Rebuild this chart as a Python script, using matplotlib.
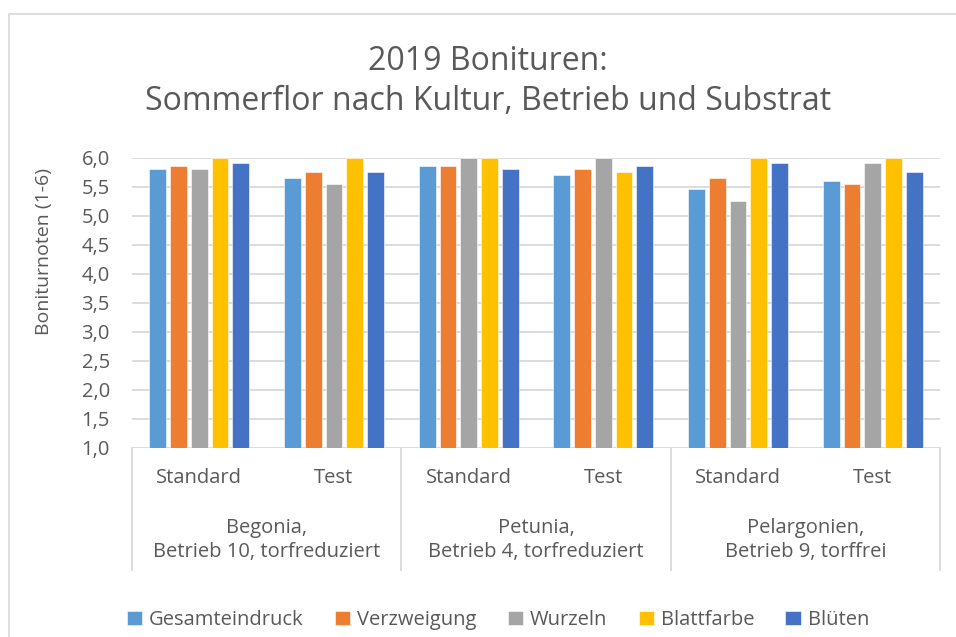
import matplotlib
matplotlib.use("Agg")
import matplotlib.pyplot as plt
import matplotlib.transforms as mtransforms
from matplotlib.patches import Rectangle
import numpy as np

plt.rcParams['font.family'] = ['Open Sans', 'DejaVu Sans']

# ---- data ----
groups = ["Begonia,\nBetrieb 10, torfreduziert",
          "Petunia,\nBetrieb 4, torfreduziert",
          "Pelargonien,\nBetrieb 9, torffrei"]
subcats = ["Standard", "Test"]
series = ["Gesamteindruck", "Verzweigung", "Wurzeln", "Blattfarbe", "Blüten"]
gesamteindruck = [5.80, 5.65, 5.85, 5.70, 5.45, 5.60]
verzweigung    = [5.85, 5.75, 5.85, 5.80, 5.65, 5.55]
wurzeln        = [5.80, 5.55, 6.00, 6.00, 5.25, 5.90]
blattfarbe     = [6.00, 6.00, 6.00, 5.75, 6.00, 6.00]
blueten        = [5.90, 5.75, 5.80, 5.85, 5.90, 5.75]
values = [gesamteindruck, verzweigung, wurzeln, blattfarbe, blueten]
colors = ["#5B9BD5", "#ED7D31", "#A5A5A5", "#FFC000", "#4472C4"]
yticks = [1.0, 1.5, 2.0, 2.5, 3.0, 3.5, 4.0, 4.5, 5.0, 5.5, 6.0]
title = "2019 Bonituren:\nSommerflor nach Kultur, Betrieb und Substrat"
ylabel = "Boniturnoten (1-6)"

W, H = 956, 637
fig = plt.figure(figsize=(W / 100, H / 100), dpi=100)
fig.patch.set_facecolor("white")

# chart border
fig.patches.append(Rectangle((9 / W, -0.1), 1.2, (H - 14) / H + 0.1,
                             transform=fig.transFigure, fill=False,
                             edgecolor="#D9D9D9", linewidth=1.2))

left, right = 132 / W, 940 / W
bottom, top = 1 - 448 / H, 1 - 157.5 / H
ax = fig.add_axes([left, bottom, right - left, top - bottom])

n_sub = len(groups) * len(subcats)
x = np.arange(n_sub)
pitch = 0.154
bw = 0.125
ns = len(series)
for i, (name, vals, c) in enumerate(zip(series, values, colors)):
    offs = (i - (ns - 1) / 2) * pitch
    base = 1.0
    ax.bar(x + offs, np.array(vals) - base, bottom=base, width=bw,
           color=c, label=name, zorder=3, edgecolor="white", linewidth=0.4)

ax.set_xlim(-0.5, n_sub - 0.5)
ax.set_ylim(1.0, 6.0)
ax.set_yticks(yticks)
ax.set_yticklabels([f"{v:.1f}".replace(".", ",") for v in yticks],
                   fontsize=14.5, color="#595959")
ax.tick_params(axis="y", length=0, pad=16)
ax.set_xticks([])
ax.grid(axis="y", color="#D9D9D9", linewidth=1.3, zorder=0)
for s in ax.spines.values():
    s.set_visible(False)

trans = mtransforms.blended_transform_factory(ax.transData, ax.transAxes)
ax_h = 448 - 157.5
ybot = -(570 - 448) / ax_h
for b in [-0.5, 1.5, 3.5, 5.5]:
    ax.plot([b, b], [0, ybot], transform=trans, color="#D9D9D9",
            linewidth=1.3, clip_on=False)

for k in range(n_sub):
    ax.text(k, -(478 - 448) / ax_h, subcats[k % 2], transform=trans,
            ha="center", va="center", fontsize=14.5, color="#595959")
for g, name in enumerate(groups):
    ax.text(2 * g + 0.5, -(540 - 448) / ax_h, name, transform=trans,
            ha="center", va="center", fontsize=14.5, color="#595959",
            linespacing=1.25)

fig.text(488 / W, 1 - 82 / H, title, ha="center", va="center",
         fontsize=23, color="#595959", linespacing=1.28)
fig.text(44 / W, 1 - 252 / H, ylabel, rotation=90, ha="center",
         va="center", fontsize=14, color="#595959")

fig.legend(loc="center", bbox_to_anchor=(498 / W, 1 - 620 / H), ncol=5,
           frameon=False, fontsize=14.5, handlelength=0.75,
           handleheight=0.75, handletextpad=0.35, columnspacing=1.55,
           labelcolor="#595959")

fig.savefig("out.png", dpi=100)
